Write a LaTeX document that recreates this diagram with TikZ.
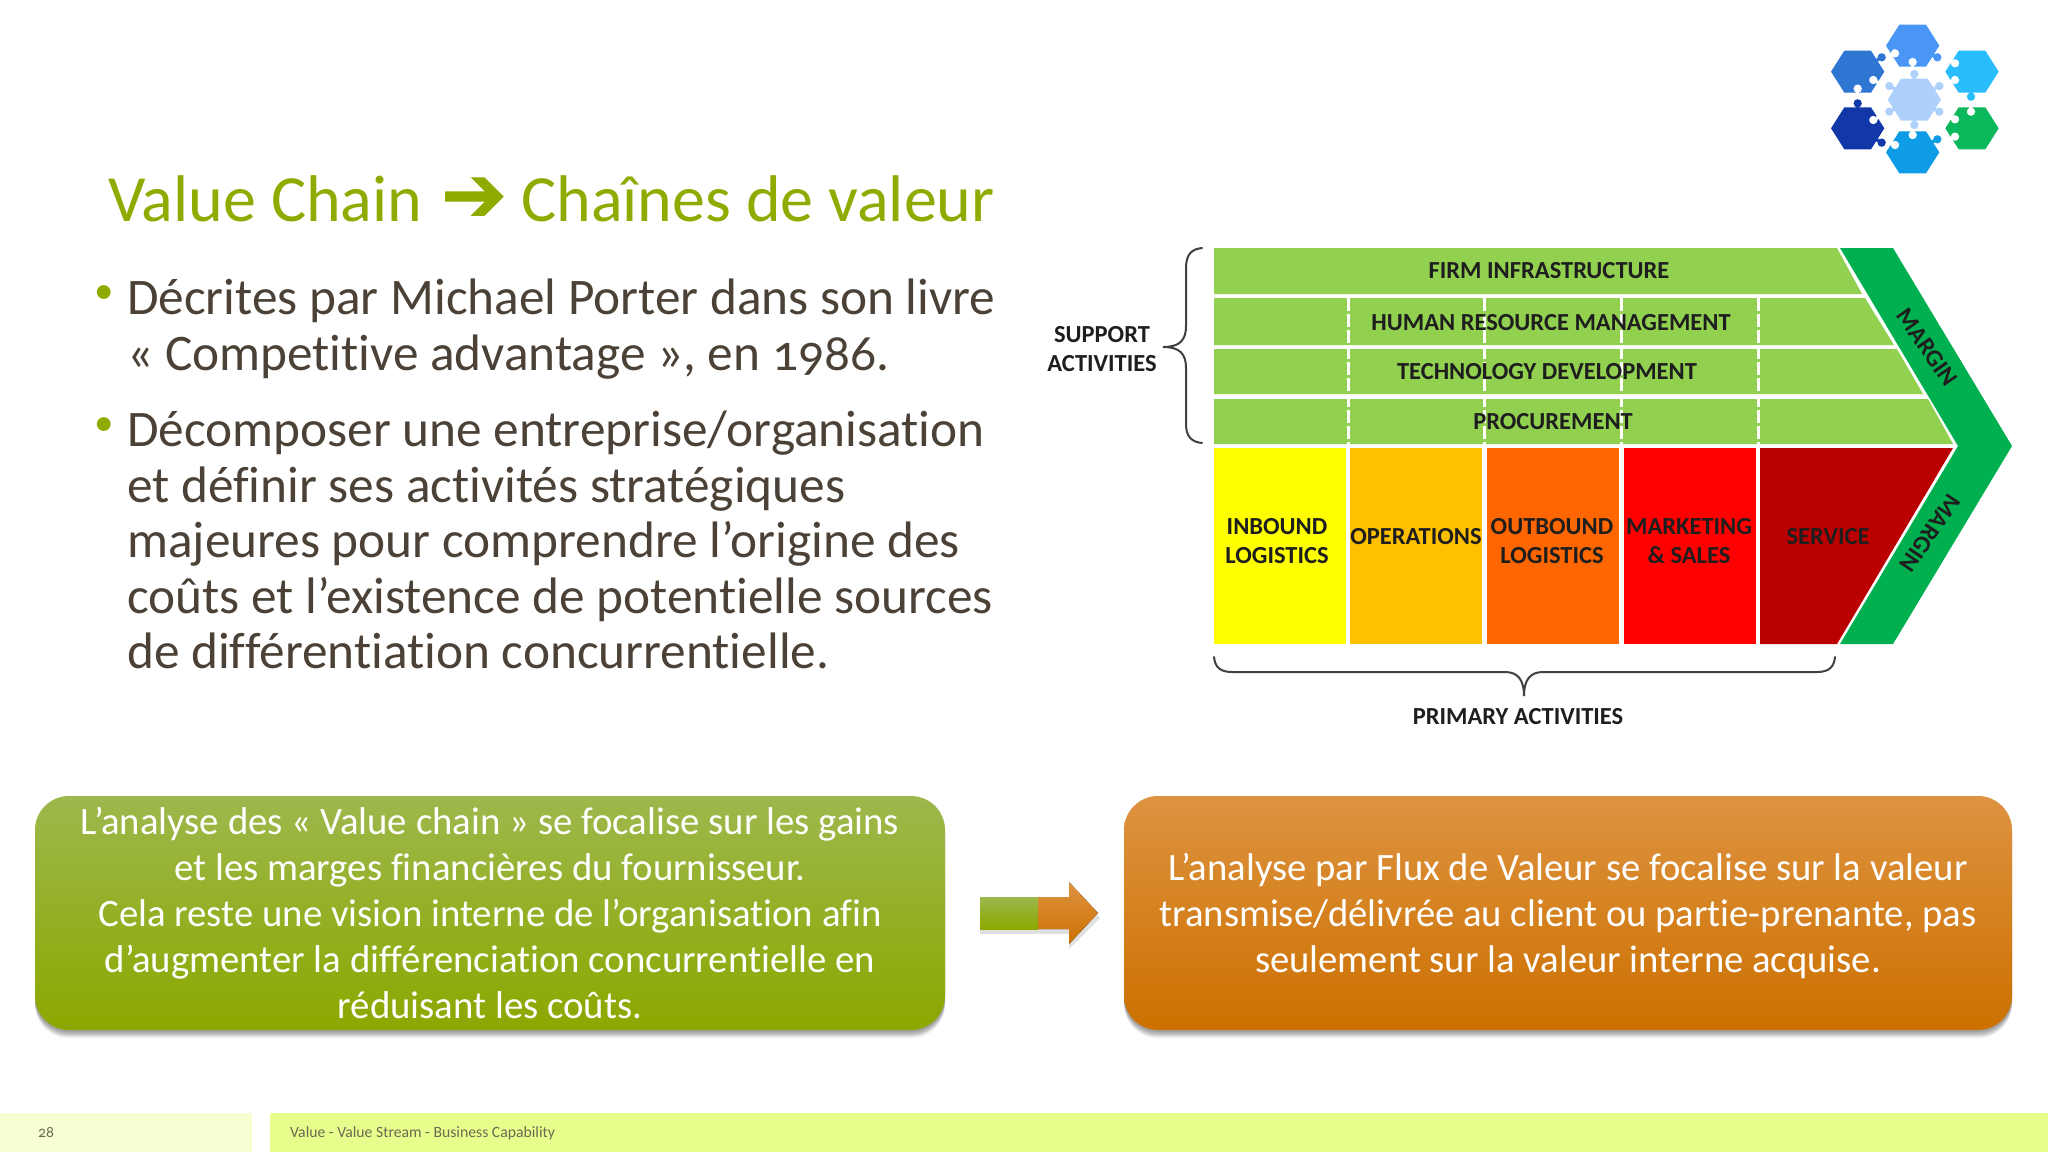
\documentclass[tikz,border=0pt]{standalone}
\usepackage{fontspec}
\setmainfont{Carlito}[Numbers=OldStyle,Ligatures=NoCommon]
\newfontfamily\arrowfont{DejaVu Sans}[FakeBold=1.5]
\usetikzlibrary{calc}
\definecolor{titlegreen}{HTML}{8FAB00}
\definecolor{bodytext}{HTML}{4B4136}
\definecolor{rowgreen}{HTML}{92D050}
\definecolor{margingreen}{HTML}{00B050}
\definecolor{labelink}{HTML}{1E1E1E}
\definecolor{footlight}{HTML}{F6FFD2}
\definecolor{footmain}{HTML}{E7FE8C}
\definecolor{foottext}{HTML}{6A6A52}
\definecolor{grnTop}{HTML}{9DB84C}
\definecolor{grnMid}{HTML}{92B00E}
\definecolor{grnBot}{HTML}{8BA800}
\definecolor{orgTop}{HTML}{DE9340}
\definecolor{orgMid}{HTML}{D27C16}
\definecolor{orgBot}{HTML}{CC7000}
\tikzset{
  rowshape/.style={fill=rowgreen,draw=none},
  whitedash/.style={draw=white,line width=3pt,dash pattern=on 13pt off 3pt},
  bracepath/.style={draw=black!75,line width=2pt,line cap=round},
  diaglabel/.style={text=labelink,font=\fontsize{24.5}{29}\selectfont\bfseries,align=center,inner sep=0pt},
  bodyblock/.style={anchor=north west,align=left,inner sep=0pt,text=bodytext,font=\fontsize{51.3}{55.4}\selectfont},
  bulletmark/.style={anchor=center,inner sep=0pt,text=titlegreen,font=\fontsize{39}{45}\selectfont},
  titletext/.style={anchor=base west,inner sep=0pt,text=titlegreen,font=\fontsize{66}{72}\selectfont},
  callout/.style={rounded corners=34pt,minimum height=234pt,align=center,text=white,inner sep=0pt,
     font=\fontsize{38.8}{46}\selectfont},
  callouttext/.style={align=center,text=white,inner sep=0pt,font=\fontsize{38.7}{46}\selectfont},
  boxshade/.style={rounded corners=34pt,fill=black,opacity=#1,draw=none},
  footlabel/.style={anchor=west,inner sep=0pt,text=foottext,font=\fontsize{15.7}{18}\selectfont},
}
\newcommand{\logohex}[3]{\fill[#3] ({#1-80},#2) -- ({#1-40},{#2-63}) -- ({#1+40},{#2-63}) -- ({#1+80},#2) -- ({#1+40},{#2+63}) -- ({#1-40},{#2+63}) -- cycle;}
% tab: blob at (x,y), neck running towards the hexagon centre (cx,cy)
\newcommand{\logotab}[5]{\fill[#5] (#1,#2) circle (12.5); \draw[#5,line width=3.2pt] (#1,#2) -- ($(#1,#2)!0.30!(#3,#4)$);}
% notch: white blob at (x,y), neck running away from the hexagon centre
\newcommand{\logonotch}[4]{\fill[white] (#1,#2) circle (12.5); \draw[white,line width=3.2pt] (#1,#2) -- ($(#1,#2)!-0.35!(#3,#4)$);}
\begin{document}
\begin{tikzpicture}[x=1pt,y=-1pt]
\useasboundingbox (0,0) rectangle (2048,1152);
\fill[white] (0,0) rectangle (2048,1152);

% logo
\begin{scope}[shift={(1780,0)},x=0.3333pt,y=-0.3333pt]
\definecolor{lgA}{HTML}{4A96F7}\definecolor{lgB}{HTML}{2F76D2}\definecolor{lgC}{HTML}{2ABDFD}
\definecolor{lgD}{HTML}{1237A8}\definecolor{lgE}{HTML}{0BB85C}\definecolor{lgF}{HTML}{0F9CE6}
\definecolor{lgG}{HTML}{AED1FB}
\logohex{398}{137}{lgA}\logohex{233}{215}{lgB}\logohex{576}{215}{lgC}
\logohex{233}{385}{lgD}\logohex{576}{385}{lgE}\logohex{398}{457}{lgF}\logohex{403}{299}{lgG}
\logonotch{345}{160}{398}{137}\logonotch{398}{186}{398}{137}
\logonotch{280}{240}{233}{215}\logonotch{233}{266}{233}{215}
\logonotch{525}{190}{576}{215}\logonotch{525}{240}{576}{215}
\logonotch{280}{360}{233}{385}
\logonotch{573}{335}{576}{385}\logonotch{525}{358}{576}{385}\logonotch{525}{410}{576}{385}
\logonotch{398}{405}{398}{457}\logonotch{345}{435}{398}{457}
\logotab{472}{172}{398}{137}{lgA}
\logotab{305}{172}{233}{215}{lgB}
\logotab{573}{290}{576}{215}{lgC}
\logotab{233}{310}{233}{385}{lgD}\logotab{305}{428}{233}{385}{lgD}
\logotab{472}{418}{398}{457}{lgF}
\foreach \p/\q in {403/222,478/258,478/335,403/375,328/335,328/258}
  {\logotab{\p}{\q}{403}{299}{lgG}}
\end{scope}

% title
\node[titletext] (titleA) at (108,221) {Value Chain};
\node[anchor=center,inner sep=0pt,text=titlegreen,font=\arrowfont\fontsize{78}{84}\selectfont] (titleArrow) at (474,199.5) {➔};
\node[titletext] (titleB) at (521,221) {Chaînes de valeur};

% bullets
\node[bulletmark] (bulA) at (104,295) {•};
\node[bulletmark] (bulB) at (104,427) {•};
\node[bodyblock] (bodyA) at (127,279) {Décrites par Michael Porter dans son livre\\« Competitive advantage », en 1986.};
\node[bodyblock] (bodyB) at (127,411) {Décomposer une entreprise/organisation\\et définir ses activités stratégiques\\majeures pour comprendre l’origine des\\coûts et l’existence de potentielle sources\\de différentiation concurrentielle.};

% support rows
\fill[rowshape] (1214,248) -- (1837,248) -- (1862,294) -- (1214,294) -- cycle;
\fill[rowshape] (1214,298) -- (1865,298) -- (1894,345) -- (1214,345) -- cycle;
\fill[rowshape] (1214,349) -- (1897,349) -- (1923,394) -- (1214,394) -- cycle;
\fill[rowshape] (1214,399) -- (1928,399) -- (1953,444) -- (1214,444) -- cycle;
\foreach \p in {1348,1484,1621.5,1758}{\draw[whitedash] (\p,298) -- (\p,446);}
% primary columns
\definecolor{colA}{HTML}{FFFF00}\definecolor{colB}{HTML}{FFC000}\definecolor{colC}{HTML}{FF6600}
\definecolor{colD}{HTML}{FF0000}\definecolor{colE}{HTML}{BA0000}
\fill[colA] (1214,448) rectangle (1346,644);
\fill[colB] (1350,448) rectangle (1481.5,644);
\fill[colC] (1487,448) rectangle (1619,644);
\fill[colD] (1624,448) rectangle (1756,644);
\fill[colE] (1760,448) -- (1953,448) -- (1837,644) -- (1760,644) -- cycle;
% margin chevron
\fill[margingreen] (1840,248) -- (1893,248) -- (2012,446) -- (1893,644) -- (1840,644) -- (1958,446) -- cycle;

% diagram labels
\node[diaglabel] (lblFirm) at (1549,271) {FIRM INFRASTRUCTURE};
\node[diaglabel] (lblHr) at (1551,323) {HUMAN RESOURCE MANAGEMENT};
\node[diaglabel] (lblTech) at (1547,372) {TECHNOLOGY DEVELOPMENT};
\node[diaglabel] (lblProc) at (1553,422) {PROCUREMENT};
\node[diaglabel] (lblIn) at (1277,541.5) {INBOUND\\LOGISTICS};
\node[diaglabel] (lblOps) at (1416,537) {OPERATIONS};
\node[diaglabel] (lblOut) at (1552,541.5) {OUTBOUND\\LOGISTICS};
\node[diaglabel] (lblMkt) at (1689,541.5) {MARKETING\\\& SALES};
\node[diaglabel] (lblSrv) at (1828,537) {SERVICE};
\node[diaglabel] (lblSup) at (1102,349.5) {SUPPORT\\ACTIVITIES};
\node[diaglabel] (lblPrim) at (1518,717) {PRIMARY ACTIVITIES};
\node[diaglabel,rotate=-55] (lblMarA) at (1927,347) {MARGIN};
\node[diaglabel,rotate=-124] (lblMarB) at (1930,533) {MARGIN};

% braces
\draw[bracepath] (1202,248) .. controls (1192,249) and (1186,254) .. (1186,268) -- (1186,326)
  .. controls (1186,340) and (1180,347) .. (1163,347)
  .. controls (1180,347) and (1186,354) .. (1186,368) -- (1186,424)
  .. controls (1186,437) and (1192,442) .. (1202,443);
\draw[bracepath] (1214,657) .. controls (1215,667) and (1220,672) .. (1232,672) -- (1505,672)
  .. controls (1518,672) and (1524,680) .. (1524,696)
  .. controls (1524,680) and (1530,672) .. (1543,672) -- (1817,672)
  .. controls (1829,672) and (1834,667) .. (1835,657);

% callout shadows
\foreach \d/\o in {2/0.10,4/0.12,6/0.12,8/0.08}{
  \fill[boxshade=\o] (35,{796+\d}) rectangle (945,{1030+\d});
  \fill[boxshade=\o] (1124,{796+\d}) rectangle (2012,{1030+\d});
}
% callouts
\node[callout,minimum width=910pt,top color=grnTop,middle color=grnMid,bottom color=grnBot] (boxL) at (490,913)
 {L’analyse des « Value chain » se focalise sur les gains\\et les marges financières du fournisseur.\\Cela reste une vision interne de l’organisation afin\\d’augmenter la différenciation concurrentielle en\\réduisant les coûts.};
\node[callout,minimum width=888pt,top color=orgTop,middle color=orgMid,bottom color=orgBot] (boxR) at (1568,913) {};
\node[callouttext] (boxRtext) at ($(boxR.center)+(0,3)$)
 {L’analyse par Flux de Valeur se focalise sur la valeur\\transmise/délivrée au client ou partie-prenante, pas\\seulement sur la valeur interne acquise.};

% block arrow
\fill[black,opacity=0.12] (980,902) rectangle (1040,934);
\fill[black,opacity=0.12] (1040,902) -- (1069,902) -- (1069,887) -- (1100,918) -- (1069,949) -- (1069,934) -- (1040,934) -- cycle;
\fill[top color=grnTop,bottom color=grnBot] (980,897) rectangle (1038,929);
\fill[top color=orgTop,bottom color=orgBot] (1038,897) -- (1069,897) -- (1069,882) -- (1098,913) -- (1069,944) -- (1069,929) -- (1038,929) -- cycle;

% footer
\fill[footlight] (0,1113) rectangle (252,1152);
\fill[footmain] (270,1113) rectangle (2048,1152);
\node[footlabel] (footNum) at (38,1133) {28};
\node[footlabel] (footTxt) at (290,1133) {Value - Value Stream - Business Capability};
\end{tikzpicture}
\end{document}
